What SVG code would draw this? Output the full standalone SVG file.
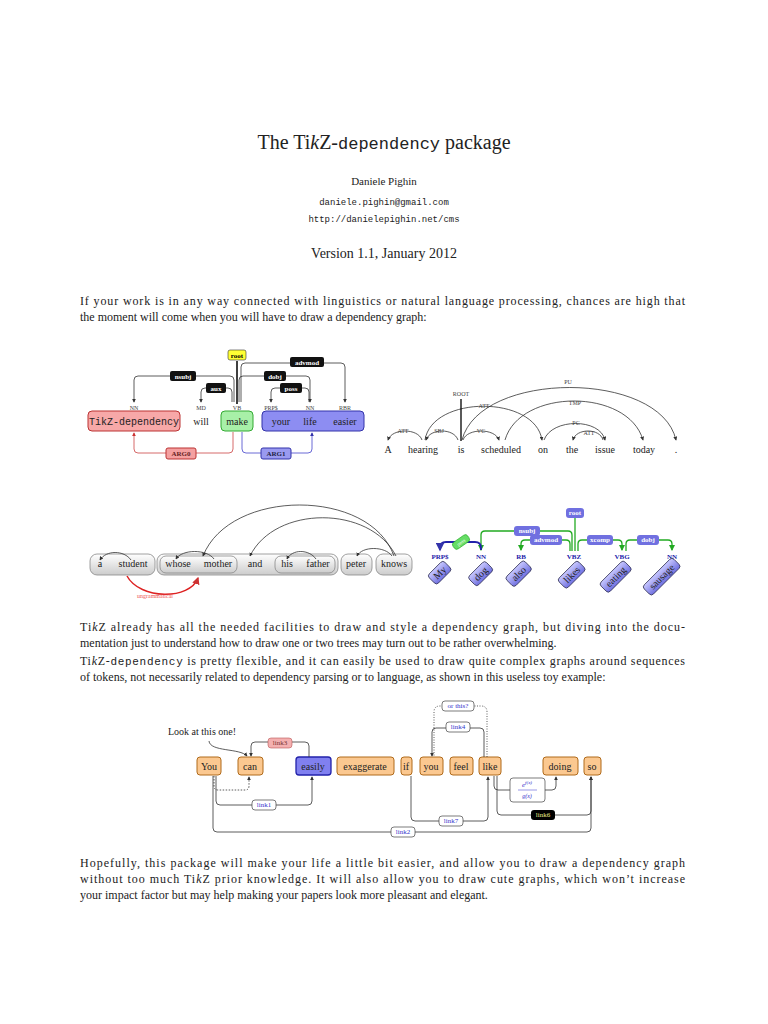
<svg xmlns="http://www.w3.org/2000/svg" width="768" height="1024" viewBox="0 0 768 1024">
<defs>
<style>
text{font-family:"Liberation Serif",serif;fill:#222}
.mono{font-family:"Liberation Mono",monospace}
.p{font-size:12px}
.tag{font-size:6px;text-anchor:middle;fill:#444}
.w{font-size:10px;text-anchor:middle}
.lbl{font-size:7px;text-anchor:middle;font-weight:bold;fill:#fff}
.arc{fill:none;stroke:#333;stroke-width:0.8}
.g{fill:none;stroke:#2a2;stroke-width:1.3}
.sm{font-size:6px;text-anchor:middle;fill:#444}
.ob{fill:#fbc890;stroke:#b06a1a;stroke-width:1}
.lk{fill:#fff;stroke:#444;stroke-width:0.7}
.lt{font-size:7px;text-anchor:middle;fill:#33c}
.gb{fill:url(#gg);stroke:#888;stroke-width:0.8}
.bt{fill:url(#bg);stroke:#335;stroke-width:0.8}
</style>
<marker id="a" viewBox="0 0 6 6" refX="5" refY="3" markerWidth="5" markerHeight="5" orient="auto"><path d="M0,0L6,3L0,6z" fill="#333"/></marker>
<marker id="ar" viewBox="0 0 6 6" refX="5" refY="3" markerWidth="5" markerHeight="5" orient="auto"><path d="M0,0L6,3L0,6z" fill="#c33"/></marker>
<marker id="ab" viewBox="0 0 6 6" refX="5" refY="3" markerWidth="5" markerHeight="5" orient="auto"><path d="M0,0L6,3L0,6z" fill="#33a"/></marker>
<marker id="ag" viewBox="0 0 6 6" refX="5" refY="3" markerWidth="5" markerHeight="5" orient="auto"><path d="M0,0L6,3L0,6z" fill="#2a2"/></marker>
<linearGradient id="gg" x1="0" y1="0" x2="0" y2="1"><stop offset="0" stop-color="#fff"/><stop offset="1" stop-color="#ccc"/></linearGradient>
<linearGradient id="bg" x1="0" y1="0" x2="0" y2="1"><stop offset="0" stop-color="#c8c8ff"/><stop offset="1" stop-color="#7070e0"/></linearGradient>
</defs>
<rect width="768" height="1024" fill="#fff"/>

<g id="header">
<text x="384" y="149" font-size="20" text-anchor="middle">The Ti<tspan font-style="italic">k</tspan>Z-<tspan class="mono" font-size="17">dependency</tspan> package</text>
<text x="384" y="185" font-size="11" text-anchor="middle">Daniele Pighin</text>
<text x="384" y="205" class="mono" font-size="9" text-anchor="middle" fill="#22a">daniele.pighin@gmail.com</text>
<text x="384" y="222" class="mono" font-size="9" text-anchor="middle" fill="#22a">http://danielepighin.net/cms</text>
<text x="384" y="258" font-size="14" text-anchor="middle">Version 1.1, January 2012</text>
</g>
<g id="para1">
<text x="80" y="305" class="p" textLength="605" lengthAdjust="spacing">If your work is in any way connected with linguistics or natural language processing, chances are high that</text>
<text x="80" y="321" class="p">the moment will come when you will have to draw a dependency graph:</text>
</g>

<g id="d1">
<rect x="88" y="411" width="92" height="20" rx="4" fill="#f7a8a8" stroke="#b33"/>
<rect x="221" y="411" width="32" height="20" rx="4" fill="#a8f0a8" stroke="#3a3"/>
<rect x="262" y="411" width="102" height="20" rx="4" fill="#8d8df2" stroke="#33a"/>
<text x="134" y="425" class="w mono" font-size="9">TikZ-dependency</text>
<text x="201" y="425" class="w">will</text><text x="237" y="425" class="w">make</text>
<text x="281" y="425" class="w">your</text><text x="310" y="425" class="w">life</text><text x="345" y="425" class="w">easier</text>
<text x="134" y="410" class="tag">NN</text><text x="201" y="410" class="tag">MD</text><text x="237" y="410" class="tag">VB</text>
<text x="271" y="410" class="tag">PRP$</text><text x="310" y="410" class="tag">NN</text><text x="345" y="410" class="tag">RBR</text>
<g id="d1arcs">
<path class="arc" d="M234,402V380q0-4-4-4H138q-4,0-4,4V402" marker-end="url(#a)"/>
<path class="arc" d="M232,402V392q0-4-4-4H205q-4,0-4,4V402" marker-end="url(#a)"/>
<path class="arc" d="M241,402V367q0-4,4-4H341q4,0,4,4V402" marker-end="url(#a)"/>
<path class="arc" d="M239,402V380q0-4,4-4H306q4,0,4,4V402" marker-end="url(#a)"/>
<path class="arc" d="M309,402V392q0-4-4-4H275q-4,0-4,4V402" marker-end="url(#a)"/>
<path d="M237,361V404" stroke="#000" stroke-width="1.5"/>
<path fill="none" stroke="#c44" stroke-width="0.8" d="M233,432V449q0,4-4,4H138q-4,0-4-4V433" marker-end="url(#ar)"/>
<path fill="none" stroke="#44c" stroke-width="0.8" d="M242,432V449q0,4,4,4H308q4,0,4-4V433" marker-end="url(#ab)"/>
</g>
<rect x="228" y="350" width="18" height="10" rx="2" fill="#ff3" stroke="#333" stroke-width="0.6"/><text x="237" y="358" class="lbl" fill="#000" style="fill:#000">root</text>
<rect x="170" y="371" width="26" height="10" rx="2" fill="#111"/><text x="183" y="379" class="lbl">nsubj</text>
<rect x="206" y="383" width="20" height="10" rx="2" fill="#111"/><text x="216" y="391" class="lbl">aux</text>
<rect x="290" y="357" width="34" height="10" rx="2" fill="#111"/><text x="307" y="365" class="lbl">advmod</text>
<rect x="264" y="371" width="22" height="10" rx="2" fill="#111"/><text x="275" y="379" class="lbl">dobj</text>
<rect x="280" y="383" width="22" height="10" rx="2" fill="#111"/><text x="291" y="391" class="lbl">poss</text>
<rect x="166" y="448" width="30" height="11" rx="2" fill="#f4a0a0" stroke="#b33"/><text x="181" y="456" class="lbl" style="fill:#622">ARG0</text>
<rect x="261" y="448" width="30" height="11" rx="2" fill="#9a9af0" stroke="#33a"/><text x="276" y="456" class="lbl" style="fill:#224">ARG1</text>
</g>

<g id="d2">
<g font-size="10">
<text x="388" y="453" class="w">A</text><text x="423" y="453" class="w">hearing</text><text x="461" y="453" class="w">is</text>
<text x="501" y="453" class="w">scheduled</text><text x="543" y="453" class="w">on</text><text x="572" y="453" class="w">the</text>
<text x="605" y="453" class="w">issue</text><text x="644" y="453" class="w">today</text><text x="676" y="453" class="w">.</text>
</g>
<g id="d2arcs">
<path class="arc" d="M422,440C418,428 392,428 388,440" marker-end="url(#a)"/>
<path class="arc" d="M458,440C454,428 430,428 426,440" marker-end="url(#a)"/>
<path class="arc" d="M463,440C467,428 495,428 499,440" marker-end="url(#a)"/>
<path class="arc" d="M425,440C432,395 535,395 542,440" marker-end="url(#a)"/>
<path class="arc" d="M462,440C480,370 660,370 676,440" marker-end="url(#a)"/>
<path class="arc" d="M505,440C520,388 628,388 643,440" marker-end="url(#a)"/>
<path class="arc" d="M544,440C552,418 600,418 605,440" marker-end="url(#a)"/>
<path class="arc" d="M603,440C600,428 576,428 573,440" marker-end="url(#a)"/>
<path d="M461,399V441" stroke="#000" stroke-width="1.3"/>
</g>
<text x="403" y="433" class="sm">ATT</text><text x="439" y="433" class="sm">SBJ</text><text x="481" y="433" class="sm">VC</text>
<text x="484" y="408" class="sm">ATT</text><text x="568" y="384" class="sm">PU</text><text x="575" y="405" class="sm">TMP</text>
<text x="576" y="425" class="sm">PC</text><text x="589" y="435" class="sm">ATT</text><text x="461" y="396" class="sm">ROOT</text>
</g>

<g id="d3">
<rect x="90" y="554" width="65" height="21" rx="7" class="gb"/>
<rect x="157" y="554" width="181" height="21" rx="7" class="gb"/>
<rect x="160" y="556" width="77" height="17" rx="6" class="gb"/>
<rect x="275" y="556" width="60" height="17" rx="6" class="gb"/>
<rect x="341" y="554" width="31" height="21" rx="7" class="gb"/>
<rect x="376" y="554" width="36" height="21" rx="7" class="gb"/>
<g font-size="9">
<text x="100" y="567" class="w" font-size="9">a</text><text x="133" y="567" class="w" font-size="9">student</text>
<text x="178" y="567" class="w" font-size="9">whose</text><text x="218" y="567" class="w" font-size="9">mother</text>
<text x="255" y="567" class="w" font-size="9">and</text><text x="287" y="567" class="w" font-size="9">his</text>
<text x="318" y="567" class="w" font-size="9">father</text><text x="356" y="567" class="w" font-size="9">peter</text>
<text x="394" y="567" class="w" font-size="9">knows</text>
</g>
<g id="d3arcs">
<path class="arc" d="M131,560C124,550 106,550 100,560" marker-end="url(#a)"/>
<path class="arc" d="M214,559C207,549 182,549 176,559" marker-end="url(#a)"/>
<path class="arc" d="M316,559C309,549 292,549 287,559" marker-end="url(#a)"/>
<path class="arc" d="M392,556C385,546 362,546 357,556" marker-end="url(#a)"/>
<path class="arc" d="M394,556C370,488 230,488 203,556" marker-end="url(#a)"/>
<path class="arc" d="M396,556C370,505 275,505 250,556" marker-end="url(#a)"/>
<path fill="none" stroke="#d22" stroke-width="1.5" d="M127,576C140,600 190,600 198,578" marker-end="url(#ar)"/>
</g>
<text x="155" y="598" font-size="6" text-anchor="middle" fill="#e55" style="fill:#e55">ungrammatical</text>
</g>

<g id="d4">
<g font-size="7" font-weight="bold" text-anchor="middle" fill="#22a">
<text x="440" y="559" style="fill:#22a">PRP$</text><text x="481" y="559" style="fill:#22a">NN</text><text x="521" y="559" style="fill:#22a">RB</text>
<text x="574" y="559" style="fill:#22a">VBZ</text><text x="622" y="559" style="fill:#22a">VBG</text><text x="672" y="559" style="fill:#22a">NN</text>
</g>
<g font-size="8">
<g transform="translate(440,573) rotate(-45)"><rect x="-11" y="-7" width="22" height="13" rx="3" class="bt"/><text x="0" y="3" class="w" font-size="8">My</text></g>
<g transform="translate(481,574) rotate(-45)"><rect x="-12" y="-7" width="24" height="13" rx="3" class="bt"/><text x="0" y="3" class="w" font-size="8">dog</text></g>
<g transform="translate(519,574) rotate(-45)"><rect x="-13" y="-7" width="26" height="13" rx="3" class="bt"/><text x="0" y="3" class="w" font-size="8">also</text></g>
<g transform="translate(572,575) rotate(-45)"><rect x="-14" y="-7" width="28" height="13" rx="3" class="bt"/><text x="0" y="3" class="w" font-size="8">likes</text></g>
<g transform="translate(616,577) rotate(-45)"><rect x="-17" y="-7" width="34" height="13" rx="3" class="bt"/><text x="0" y="3" class="w" font-size="8">eating</text></g>
<g transform="translate(662,577) rotate(-45)"><rect x="-21" y="-7" width="42" height="13" rx="3" class="bt"/><text x="0" y="3" class="w" font-size="8">sausage</text></g>
</g>
<g id="d4arcs">
<path class="g" d="M572,551V535q0-4-4-4H485q-4,0-4,4V550" marker-end="url(#ag)"/>
<path class="g" d="M570,551V544q0-4-4-4H525q-4,0-4,4V550" marker-end="url(#ag)"/>
<path class="g" d="M578,551V544q0-4,4-4H618q4,0,4,4V550" marker-end="url(#ag)"/>
<path class="g" d="M626,551V544q0-4,4-4H668q4,0,4,4V550" marker-end="url(#ag)"/>
<path d="M575,518V551" stroke="#2a2" stroke-width="1.3"/>
<path fill="none" stroke="#22a" stroke-width="1.8" d="M481,550V548q0-6-6-6H446q-6,0-6,6V550" marker-end="url(#ab)"/>
</g>
<rect x="566" y="508" width="18" height="10" rx="3" fill="#7070e0"/><text x="575" y="515" class="lbl">root</text>
<rect x="514" y="526" width="26" height="10" rx="3" fill="#7070e0"/><text x="527" y="533" class="lbl">nsubj</text>
<rect x="530" y="535" width="32" height="10" rx="3" fill="#7070e0"/><text x="546" y="542" class="lbl">advmod</text>
<rect x="587" y="535" width="26" height="10" rx="3" fill="#7070e0"/><text x="600" y="542" class="lbl">xcomp</text>
<rect x="637" y="535" width="22" height="10" rx="3" fill="#7070e0"/><text x="648" y="542" class="lbl">dobj</text>
<g transform="translate(461,542) rotate(-35)"><rect x="-9" y="-4" width="18" height="8" rx="3" fill="#6d6" stroke="#2a2" stroke-width="0.6"/><text x="0" y="2" font-size="5" text-anchor="middle" style="fill:#fff">poss</text></g>
</g>

<g id="para2">
<text x="80" y="631" class="p" textLength="605" lengthAdjust="spacing">Ti<tspan font-style="italic">k</tspan>Z already has all the needed facilities to draw and style a dependency graph, but diving into the docu-</text>
<text x="80" y="647" class="p">mentation just to understand how to draw one or two trees may turn out to be rather overwhelming.</text>
<text x="80" y="665" class="p" textLength="605" lengthAdjust="spacing">Ti<tspan font-style="italic">k</tspan>Z-<tspan class="mono" font-size="11">dependency</tspan> is pretty flexible, and it can easily be used to draw quite complex graphs around sequences</text>
<text x="80" y="681" class="p">of tokens, not necessarily related to dependency parsing or to language, as shown in this useless toy example:</text>
</g>

<g id="d5">
<g id="d5nodes">
<rect x="197" y="757" width="24" height="18" rx="3" class="ob"/><text x="209" y="770" class="w">You</text>
<rect x="238" y="757" width="25" height="18" rx="3" class="ob"/><text x="250" y="770" class="w">can</text>
<rect x="296" y="757" width="35" height="18" rx="3" fill="#8080f0" stroke="#22a" stroke-width="1.3"/><text x="313" y="770" class="w">easily</text>
<rect x="337" y="757" width="57" height="18" rx="3" class="ob"/><text x="365" y="770" class="w">exaggerate</text>
<rect x="401" y="757" width="11" height="18" rx="3" class="ob"/><text x="406" y="770" class="w">if</text>
<rect x="420" y="757" width="23" height="18" rx="3" class="ob"/><text x="431" y="770" class="w">you</text>
<rect x="450" y="757" width="23" height="18" rx="3" class="ob"/><text x="461" y="770" class="w">feel</text>
<rect x="479" y="757" width="22" height="18" rx="3" class="ob"/><text x="490" y="770" class="w">like</text>
<rect x="543" y="757" width="35" height="18" rx="3" class="ob"/><text x="560" y="770" class="w">doing</text>
<rect x="584" y="757" width="17" height="18" rx="3" class="ob"/><text x="592" y="770" class="w">so</text>
</g>
<text x="168" y="735" font-size="10">Look at this one!</text>
<g id="d5arcs">
<path class="arc" d="M209,741C210,752 240,748 247,756" marker-end="url(#a)"/>
<path class="arc" d="M309,757V746q0-4-4-4H255q-4,0-4,4V756" marker-end="url(#a)"/>
<path class="arc" stroke-dasharray="1.5,1.5" d="M214,776V786q0,4,4,4H245q4,0,4-4V777" marker-end="url(#a)"/>
<path class="arc" d="M216,776V801q0,4,4,4H308q4,0,4-4V777" marker-end="url(#a)"/>
<path class="arc" d="M213,776V828q0,4,4,4H587q4,0,4-4V777" marker-end="url(#a)"/>
<path class="arc" d="M411,776V817q0,4,4,4H484q4,0,4-4V777" marker-end="url(#a)"/>
<path class="arc" d="M497,776V811q0,4,4,4H587q4,0,4-4V777" marker-end="url(#a)"/>
<path class="arc" d="M494,776V786q0,4,4,4H510"/>
<path class="arc" d="M545,790H552q4,0,4-4V777" marker-end="url(#a)"/>
<path class="arc" d="M484,757V732q0-4-4-4H436q-4,0-4,4V756" marker-end="url(#a)"/>
<path class="arc" stroke-dasharray="1,1.5" d="M487,757V712q0-6-6-6H440q-6,0-6,6V756"/>
</g>
<rect x="268" y="738" width="24" height="10" rx="3" fill="#f4b0b0" stroke="#b55" stroke-width="0.6"/><text x="280" y="745" class="lt" style="fill:#733">link3</text>
<rect x="252" y="800" width="24" height="10" rx="3" class="lk"/><text x="264" y="807" class="lt">link1</text>
<rect x="391" y="827" width="24" height="10" rx="3" class="lk"/><text x="403" y="834" class="lt">link2</text>
<rect x="439" y="816" width="24" height="10" rx="3" class="lk"/><text x="451" y="823" class="lt">link7</text>
<rect x="531" y="810" width="24" height="10" rx="3" fill="#000"/><text x="543" y="817" class="lt" style="fill:#ee8">link6</text>
<rect x="446" y="722" width="24" height="10" rx="3" class="lk"/><text x="458" y="729" class="lt">link4</text>
<rect x="442" y="701" width="32" height="10" rx="3" class="lk"/><text x="458" y="708" class="lt">or this?</text>
<rect x="510" y="778" width="35" height="24" rx="3" class="lk"/>
<text x="527" y="787" font-size="7" text-anchor="middle" font-style="italic" style="fill:#33c">e<tspan font-size="5" dy="-3">f(x)</tspan></text>
<path d="M518,790H537" stroke="#33c" stroke-width="0.5"/>
<text x="527" y="798" font-size="6" text-anchor="middle" font-style="italic" style="fill:#33c">g(x)</text>
</g>

<g id="para3">
<text x="80" y="867" class="p" textLength="605" lengthAdjust="spacing">Hopefully, this package will make your life a little bit easier, and allow you to draw a dependency graph</text>
<text x="80" y="883" class="p" textLength="605" lengthAdjust="spacing">without too much Ti<tspan font-style="italic">k</tspan>Z prior knowledge. It will also allow you to draw cute graphs, which won’t increase</text>
<text x="80" y="899" class="p">your impact factor but may help making your papers look more pleasant and elegant.</text>
</g>
</svg>
